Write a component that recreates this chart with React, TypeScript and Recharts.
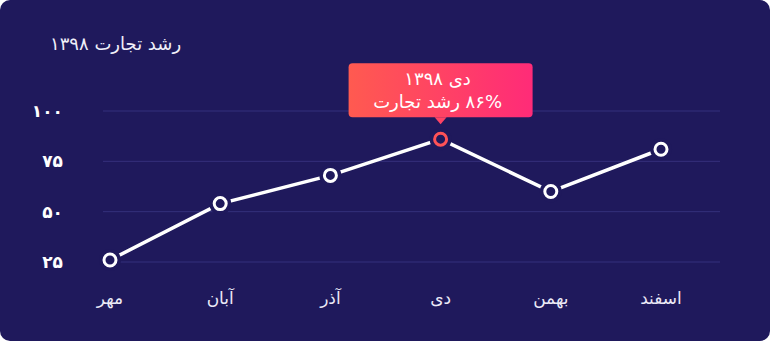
import { LineChart, Line, XAxis, YAxis, CartesianGrid } from 'recharts';

const months = ['مهر', 'آبان', 'آذر', 'دی', 'بهمن', 'اسفند'];
const growth = [26, 54, 68, 86, 60, 81];
const yTicks = [25, 50, 75, 100];
const highlightMonth = 'دی';
const year = 1398;
const seriesName = 'رشد تجارت';

const BG = '#1f195c';
const GRID = '#35307c';
const RED = '#ff5257';
const FONT = '"DejaVu Sans", sans-serif';

const toFa = (v: number | string) =>
  String(v).replace(/\d/g, (d) => '۰۱۲۳۴۵۶۷۸۹'[Number(d)]);

const data = months.map((month, i) => ({ month, growth: growth[i] }));

function Bubble({ cx, cy, month, value }: { cx: number; cy: number; month: string; value: number }) {
  const w = 184;
  const h = 54;
  const top = cy - 22 - h;
  return (
    <g>
      <defs>
        <linearGradient id="bubbleGrad" gradientUnits="userSpaceOnUse" x1={cx - w / 2} y1={0} x2={cx + w / 2} y2={0}>
          <stop offset="0%" stopColor="#ff5a50" />
          <stop offset="100%" stopColor="#ff2b78" />
        </linearGradient>
      </defs>
      <rect x={cx - w / 2} y={top} width={w} height={h} rx={4} fill="url(#bubbleGrad)" />
      <path d={`M${cx - 6},${cy - 22} L${cx},${cy - 15} L${cx + 6},${cy - 22} Z`} fill="url(#bubbleGrad)" />
      <text x={cx - 3} y={top + 22} textAnchor="middle" fill="#fff" fontSize={18} fontFamily={FONT} style={{ direction: 'rtl' }}>
        {`${month} ${toFa(year)}`}
      </text>
      <text x={cx - 3} y={top + 45} textAnchor="middle" fill="#fff" fontSize={18} fontFamily={FONT} style={{ direction: 'rtl' }}>
        {`${toFa(value)}% ${seriesName}`}
      </text>
    </g>
  );
}

const renderDot = (props: any) => {
  const { cx, cy, payload, index } = props;
  const active = payload.month === highlightMonth;
  return (
    <g key={`dot-${index}`}>
      <circle cx={cx} cy={cy} r={11} fill={BG} />
      <circle cx={cx} cy={cy} r={6} fill={BG} stroke={active ? RED : '#fff'} strokeWidth={3} />
      {active && <Bubble cx={cx} cy={cy} month={payload.month} value={payload.growth} />}
    </g>
  );
};

export default function App() {
  return (
    <div
      style={{
        position: 'absolute',
        left: 0,
        top: 0,
        width: 770,
        height: 341,
        background: BG,
        borderRadius: 10,
        fontFamily: FONT,
        overflow: 'hidden',
      }}
    >
      <div
        style={{
          position: 'absolute',
          left: 50,
          top: 35,
          direction: 'rtl',
          color: '#f0eff9',
          fontSize: 18,
          lineHeight: '18px',
          whiteSpace: 'nowrap',
        }}
      >
        {`${seriesName} ${toFa(year)}`}
      </div>
      <LineChart width={770} height={341} data={data} margin={{ top: 111, right: 50, bottom: 39, left: 0 }}>
        <CartesianGrid vertical={false} stroke={GRID} />
        <XAxis
          dataKey="month"
          axisLine={false}
          tickLine={false}
          tickSize={0}
          tickMargin={30}
          height={40}
          padding={{ left: 7, right: 59 }}
          tick={{ fill: '#eceaf7', fontSize: 17, fontFamily: FONT }}
        />
        <YAxis
          domain={[25, 100]}
          ticks={yTicks}
          width={103}
          axisLine={false}
          tickLine={false}
          tickSize={0}
          tickMargin={40}
          tickFormatter={toFa}
          tick={{ fill: '#ffffff', fontSize: 17, fontWeight: 'bold', fontFamily: FONT }}
        />
        <Line
          type="linear"
          dataKey="growth"
          stroke="#ffffff"
          strokeWidth={3.5}
          dot={renderDot}
          activeDot={false}
          isAnimationActive={false}
        />
      </LineChart>
    </div>
  );
}
